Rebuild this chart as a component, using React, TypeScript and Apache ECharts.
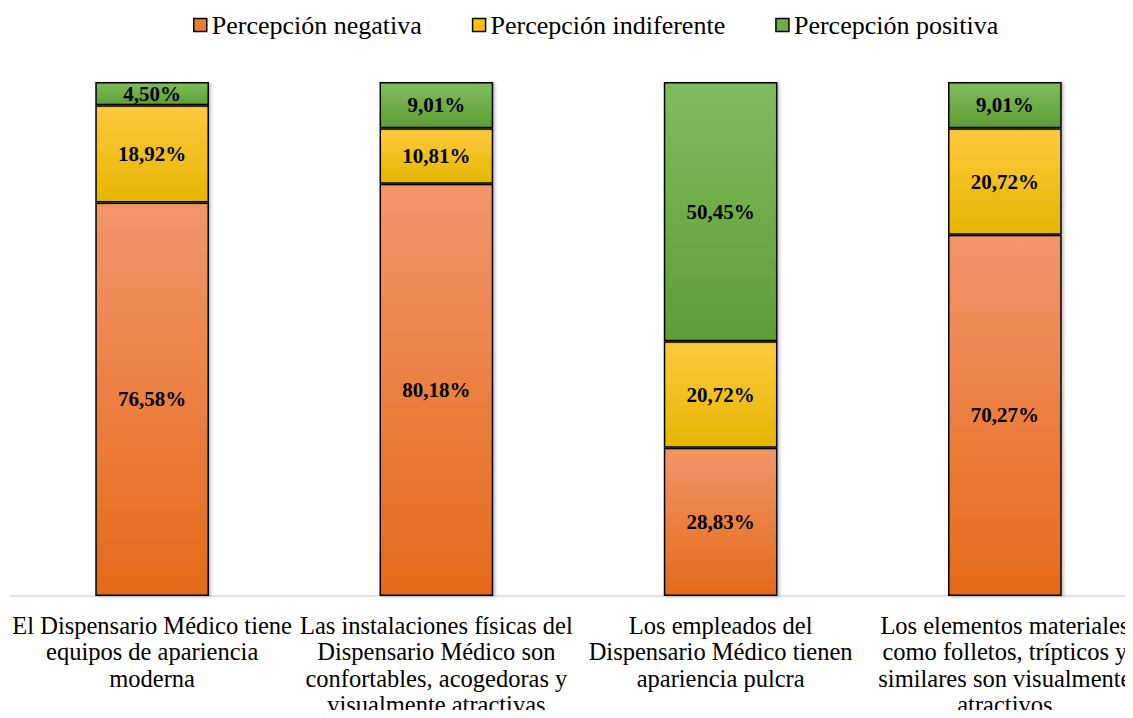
import React, { useEffect, useRef } from "react";
import * as echarts from "echarts";

const categories = [
  "El Dispensario Médico tiene\nequipos de apariencia\nmoderna",
  "Las instalaciones físicas del\nDispensario Médico son\nconfortables, acogedoras y\nvisualmente atractivas",
  "Los empleados del\nDispensario Médico tienen\napariencia pulcra",
  "Los elementos materiales\ncomo folletos, trípticos y\nsimilares son visualmente\natractivos",
];
const negativa = [76.58, 80.18, 28.83, 70.27];
const indiferente = [18.92, 10.81, 20.72, 20.72];
const positiva = [4.5, 9.01, 50.45, 9.01];
const seriesNames = ["Percepción negativa", "Percepción indiferente", "Percepción positiva"];

const grad = (top: string, bottom: string) =>
  new echarts.graphic.LinearGradient(0, 0, 0, 1, [
    { offset: 0, color: top },
    { offset: 1, color: bottom },
  ]);

export default function App() {
  const ref = useRef<HTMLDivElement>(null);
  useEffect(() => {
    if (!ref.current) return;
    const chart = echarts.init(ref.current, null, { renderer: "svg" });
    const font = "Liberation Serif, Times New Roman, serif";
    const colors = [
      [grad("#F3956A", "#E46A19"), "#ED7D31"],
      [grad("#FFC940", "#E5B600"), "#FFC000"],
      [grad("#80BC5C", "#5E9E35"), "#70AD47"],
    ];
    const mk = (i: number, data: number[]) => ({
      name: seriesNames[i],
      type: "bar",
      stack: "total",
      barWidth: "40%",
      data,
      itemStyle: {
        color: colors[i][0],
        borderColor: "#000",
        borderWidth: 1.5,
        shadowColor: "rgba(0,0,0,0.25)",
        shadowBlur: 3,
        shadowOffsetX: 2,
        shadowOffsetY: 1,
      },
      label: {
        show: true,
        position: "inside",
        formatter: (p: any) => p.value.toFixed(2).replace(".", ",") + "%",
        fontFamily: font,
        fontWeight: "bold",
        fontSize: 21,
        color: "#000",
      },
    });
    chart.setOption({
      animation: false,
      legend: {
        top: 7,
        left: 188,
        itemWidth: 13,
        itemHeight: 13,
        itemGap: 50,
        icon: "rect",
        textStyle: { fontFamily: font, fontSize: 26, color: "#000" },
        data: seriesNames.map((n, i) => ({
          name: n,
          itemStyle: { color: colors[i][1], borderColor: "#000", borderWidth: 1.5 },
        })),
      },
      grid: { left: 10, width: 1137, top: 82, bottom: 122, outerBoundsMode: "none", containLabel: false },
      xAxis: {
        type: "category",
        data: categories,
        axisLine: { lineStyle: { color: "#D9D9D9", width: 1.5 } },
        axisTick: { show: false },
        axisLabel: {
          interval: 0,
          margin: 16,
          fontFamily: font,
          fontSize: 24.5,
          lineHeight: 26.5,
          color: "#000",
          align: "center",
          verticalAlign: "top",
        },
      },
      yAxis: {
        type: "value",
        min: 0,
        max: 100,
        show: false,
        splitLine: { show: false },
      },
      series: [mk(0, negativa), mk(1, indiferente), mk(2, positiva)],
    });
    return () => chart.dispose();
  }, []);
  return <div ref={ref} style={{ width: 1133, height: 718, margin: -8 }} />;
}
